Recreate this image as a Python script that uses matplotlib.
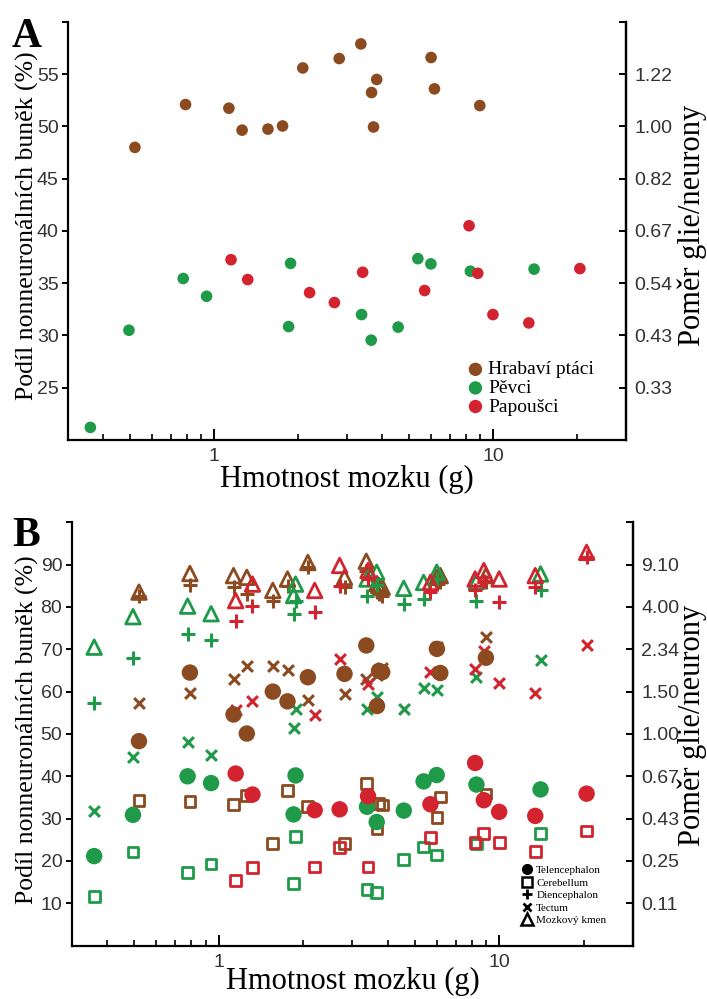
import numpy as np
import matplotlib
matplotlib.use("Agg")
import matplotlib.pyplot as plt
from matplotlib.lines import Line2D

# barvy skupin
BROWN = '#8b4a1f'
GREEN = '#1e9a48'
RED = '#d2232f'

# hmotnost mozku (g) jednotlivých druhů
brown_mass = [0.52, 0.79, 1.13, 1.26, 1.56, 1.76, 2.08, 2.81, 3.36, 3.67, 3.83, 3.73, 6.0, 6.17, 8.97]
green_mass = [0.36, 0.495, 0.775, 0.94, 1.88, 1.85, 3.38, 3.66, 4.57, 5.38, 5.99, 8.3, 14.05]
red_mass = [1.15, 1.32, 2.2, 2.7, 3.41, 5.69, 8.21, 8.82, 10.0, 13.45, 20.5]

# panel A - podíl nonneuronálních buněk (%)
brown_A = [48.0, 52.1, 51.75, 49.65, 49.75, 50.05, 55.6, 56.5, 57.9, 53.25, 54.5, 49.95, 56.6, 53.6, 52.0]
green_A = [21.2, 30.5, 35.45, 33.75, 36.9, 30.85, 32.0, 29.55, 30.8, 37.35, 36.85, 36.15, 36.35]
red_A = [37.25, 35.35, 34.1, 33.15, 36.05, 34.3, 40.5, 35.95, 32.0, 31.2, 36.4]

# panel B - jednotlivé oblasti mozku (%)
brown_tel = [48.3, 64.5, 54.6, 50.1, 60.0, 57.7, 63.4, 64.2, 70.9, 56.6, 64.6, 64.9, 70.1, 64.4, 68.0]
brown_cer = [34.3, 34.05, 33.3, 35.4, 24.05, 36.6, 32.8, 24.05, 38.3, 27.7, 33.2, 33.6, 30.2, 35.1, 35.8]
brown_die = [82.5, 85.3, 84.6, 83.1, 81.5, 85.0, 89.4, 84.6, 88.6, 83.5, 82.5, 83.0, 85.5, 85.8, 85.8]
brown_tec = [57.3, 59.7, 63.0, 66.0, 66.0, 65.2, 58.0, 59.5, 63.1, 64.0, 65.5, 65.0, 70.5, 64.5, 72.9]
brown_stem = [83.5, 87.9, 87.4, 87.0, 83.9, 86.6, 90.5, 87.0, 90.8, 85.5, 84.7, 85.0, 87.0, 87.4, 87.4]

green_tel = [21.15, 30.9, 40.0, 38.4, 40.2, 31.0, 32.8, 29.2, 31.9, 38.8, 40.3, 38.05, 36.9]
green_cer = [11.55, 22.1, 17.2, 19.3, 25.7, 14.7, 13.3, 12.5, 20.4, 23.3, 21.4, 24.0, 26.5]
green_die = [57.3, 67.9, 73.5, 72.2, 81.5, 78.3, 82.7, 85.2, 80.7, 81.9, 86.6, 81.5, 83.9]
green_tec = [31.8, 44.6, 48.1, 45.1, 56.0, 51.5, 56.0, 58.7, 56.0, 60.8, 60.5, 63.4, 67.4]
green_stem = [70.5, 77.7, 80.2, 78.4, 85.4, 82.7, 86.6, 88.2, 84.4, 85.8, 88.2, 86.0, 87.8]

red_tel = [40.65, 35.7, 32.0, 32.2, 35.3, 33.4, 43.15, 34.35, 31.6, 30.65, 35.9]
red_cer = [15.3, 18.4, 18.6, 23.1, 18.6, 25.5, 24.4, 26.5, 24.4, 22.3, 27.1]
red_die = [76.8, 80.3, 78.75, 85.0, 86.5, 83.5, 83.9, 86.2, 81.1, 84.6, 91.7]
red_tec = [55.6, 57.8, 54.4, 67.8, 61.9, 64.6, 65.4, 69.6, 62.1, 59.65, 71.1]
red_stem = [81.5, 85.4, 83.9, 89.8, 88.6, 85.8, 86.6, 88.6, 86.6, 87.4, 92.9]

# popisky os
A_left_ticks = [25, 30, 35, 40, 45, 50, 55, 60]
A_left_labels = ['25', '30', '35', '40', '45', '50', '55', '']
A_right_labels = ['0.33', '0.43', '0.54', '0.67', '0.82', '1.00', '1.22', '']
B_left_ticks = [10, 20, 30, 40, 50, 60, 70, 80, 90, 100]
B_left_labels = ['10', '20', '30', '40', '50', '60', '70', '80', '90', '']
B_right_labels = ['0.11', '0.25', '0.43', '0.67', '1.00', '1.50', '2.34', '4.00', '9.10', '']

SERIF = 'Liberation Serif'
SANS = 'Liberation Sans'
W, H = 707, 999

fig = plt.figure(figsize=(7.07, 9.99), dpi=100)
axA = fig.add_axes([0.0966, 0.5596, 0.7888, 0.4184])
axB = fig.add_axes([0.1018, 0.0534, 0.7935, 0.4238])


def style_axes(ax, ylim, lticks, llabels, rlabels, xpad):
    ax.set_xscale('log')
    ax.set_xlim(0.3, 30)
    ax.set_ylim(*ylim)
    ax.spines['top'].set_visible(False)
    for s in ['left', 'bottom', 'right']:
        ax.spines[s].set_linewidth(1.6)
    ax.set_xticks([1, 10])
    ax.set_xticklabels(['1', '10'], fontfamily=SANS, fontsize=14, color='#333333')
    ax.tick_params(axis='x', which='major', direction='in', length=8, width=1.4, pad=6)
    ax.tick_params(axis='x', which='minor', direction='in', length=4, width=1.2)
    ax.set_yticks(lticks)
    ax.set_yticklabels(llabels, fontfamily=SANS, fontsize=14, color='#333333')
    ax.tick_params(axis='y', direction='out', length=4, width=1.4, pad=3)
    sec = ax.secondary_yaxis('right')
    sec.spines['right'].set_linewidth(1.6)
    sec.set_yticks(lticks)
    sec.set_yticklabels(rlabels, fontfamily=SANS, fontsize=14, color='#333333')
    sec.tick_params(axis='y', direction='in', length=5, width=1.4, pad=6)
    ax.set_xlabel('Hmotnost mozku (g)', fontfamily=SERIF, fontsize=22, labelpad=xpad)


def side_labels(yc_left, yc_right):
    fig.text(27 / W, 1 - yc_left / H, 'Podíl nonneuronálních buněk (%)', fontfamily=SERIF,
             fontsize=18.5, rotation=90, ha='center', va='center')
    fig.text(692 / W, 1 - yc_right / H, 'Poměr glie/neurony', fontfamily=SERIF,
             fontsize=22, rotation=90, ha='center', va='center')


# ---- panel A ----
for m, v, c, lab in [(brown_mass, brown_A, BROWN, 'Hrabaví ptáci'),
                     (green_mass, green_A, GREEN, 'Pěvci'),
                     (red_mass, red_A, RED, 'Papoušci')]:
    axA.scatter(m, v, s=70, color=c, edgecolors='none', label=lab, zorder=3)
style_axes(axA, (20, 60), A_left_ticks, A_left_labels, A_right_labels, 0)
side_labels(226, 225)
axA.legend(loc='lower right', bbox_to_anchor=(0.96, 0.035), frameon=False,
           prop={'family': SERIF, 'size': 14}, handletextpad=0.15, handlelength=1.0,
           labelspacing=0.05, scatterpoints=1, markerscale=1.15, borderpad=0)

# ---- panel B ----
groups = [(brown_mass, BROWN, brown_tel, brown_cer, brown_die, brown_tec, brown_stem),
          (green_mass, GREEN, green_tel, green_cer, green_die, green_tec, green_stem),
          (red_mass, RED, red_tel, red_cer, red_die, red_tec, red_stem)]
for m, c, tel, cer, die, tec, stem in groups:
    axB.scatter(m, cer, s=60, marker='s', facecolors='none', edgecolors=c, linewidths=2, zorder=3)
    axB.scatter(m, stem, s=110, marker='^', facecolors='none', edgecolors=c, linewidths=2, zorder=3)
    axB.scatter(m, die, s=90, marker='+', color=c, linewidths=2.2, zorder=3)
    axB.scatter(m, tec, s=60, marker='x', color=c, linewidths=2.2, zorder=3)
    axB.scatter(m, tel, s=140, marker='o', color=c, edgecolors='none', zorder=4)
style_axes(axB, (0, 100), B_left_ticks, B_left_labels, B_right_labels, -3)
side_labels(730, 725)

handles = [Line2D([], [], ls='none', marker='o', color='k', ms=7),
           Line2D([], [], ls='none', marker='s', mfc='none', mec='k', mew=1.8, ms=6.5),
           Line2D([], [], ls='none', marker='+', color='k', mew=2, ms=7),
           Line2D([], [], ls='none', marker='x', color='k', mew=2, ms=6),
           Line2D([], [], ls='none', marker='^', mfc='none', mec='k', mew=1.8, ms=8)]
axB.legend(handles, ['Telencephalon', 'Cerebellum', 'Diencephalon', 'Tectum', 'Mozkový kmen'],
           loc='lower left', bbox_to_anchor=(0.792, 0.035), frameon=False,
           prop={'family': SERIF, 'size': 8}, handletextpad=0.3, labelspacing=0.25,
           handlelength=1.0, borderpad=0)

fig.text(0.017, 0.982, 'A', fontfamily=SERIF, fontweight='bold', fontsize=30, va='top')
fig.text(0.017, 0.482, 'B', fontfamily=SERIF, fontweight='bold', fontsize=30, va='top')

fig.savefig('out.png', dpi=100)
